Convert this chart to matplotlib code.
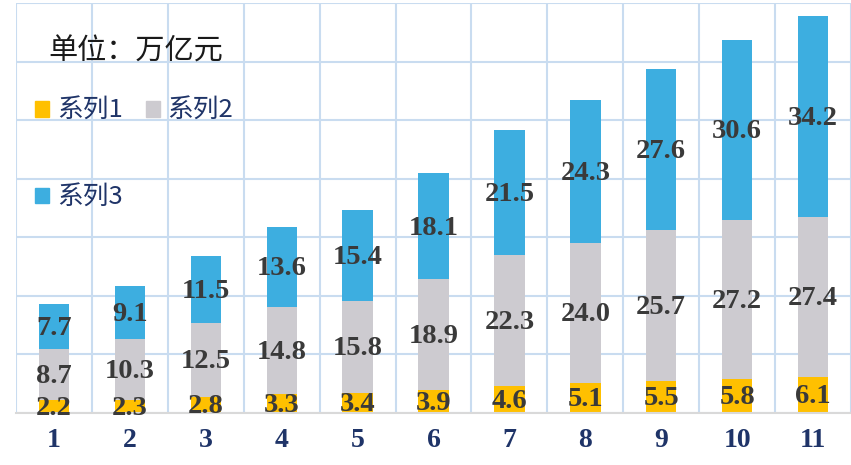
import matplotlib
matplotlib.use("Agg")
import matplotlib.pyplot as plt
from matplotlib.patches import Patch
import numpy as np

categories = ["1", "2", "3", "4", "5", "6", "7", "8", "9", "10", "11"]
series1 = [2.2, 2.3, 2.8, 3.3, 3.4, 3.9, 4.6, 5.1, 5.5, 5.8, 6.1]
series2 = [8.7, 10.3, 12.5, 14.8, 15.8, 18.9, 22.3, 24.0, 25.7, 27.2, 27.4]
series3 = [7.7, 9.1, 11.5, 13.6, 15.4, 18.1, 21.5, 24.3, 27.6, 30.6, 34.2]
series_names = ["系列1", "系列2", "系列3"]
unit_text = "单位：万亿元"

colors = ["#FFC000", "#CDCBD0", "#3DAEE0"]

fig = plt.figure(figsize=(8.51, 4.65), dpi=100)
ax = fig.add_axes([16 / 851, 52 / 465, 1 - 16 / 851, 410 / 465])

x = np.arange(len(categories))
s1 = np.array(series1)
s2 = np.array(series2)
s3 = np.array(series3)
w = 0.4
ax.bar(x, s1, w, color=colors[0], zorder=3)
ax.bar(x, s2, w, bottom=s1, color=colors[1], zorder=3)
ax.bar(x, s3, w, bottom=s1 + s2, color=colors[2], zorder=3)

lab_kw = dict(ha="center", va="center", fontsize=20.5, fontweight="bold",
              family="Liberation Serif", color="#3A3A3A", zorder=5)
for i in range(len(x)):
    ax.text(x[i], s1[i] / 2 - 0.3, f"{s1[i]:.1f}", **lab_kw)
    ax.text(x[i], s1[i] + s2[i] / 2 - 0.3, f"{s2[i]:.1f}", **lab_kw)
    ax.text(x[i], s1[i] + s2[i] + s3[i] / 2 - 0.3, f"{s3[i]:.1f}", **lab_kw)

ax.set_xlim(-0.5, len(x) - 0.5)
ax.set_ylim(0, 70)
ax.set_xticks(x)
ax.set_xticklabels(categories, fontsize=20, fontweight="bold",
                   family="Liberation Serif", color="#1F3468")
ax.tick_params(axis="x", length=0, pad=11)
ax.set_yticks(np.arange(0, 71, 10))
ax.tick_params(axis="y", length=0, labelleft=False)
ax.set_xticks(np.arange(-0.5, len(x), 1), minor=True)
ax.tick_params(axis="x", which="minor", length=0)
ax.grid(True, axis="y", which="major", color="#C9DCF0", linewidth=1.5, zorder=0)
ax.grid(True, axis="x", which="minor", color="#C9DCF0", linewidth=1.5, zorder=0)
for sp in ["top", "right", "left"]:
    ax.spines[sp].set_visible(False)
ax.spines["bottom"].set_color("#D9D9D9")
ax.spines["bottom"].set_linewidth(1.5)
ax.spines["bottom"].set_zorder(4)

fig.text(48 / 851, 1 - 52 / 465, unit_text, fontsize=21,
         family=["Noto Sans CJK SC", "DejaVu Sans"], color="#1a1a1a",
         ha="left", va="center")

handles = [Patch(color=colors[0], label=series_names[0]),
           Patch(color=colors[2], label=series_names[2]),
           Patch(color=colors[1], label=series_names[1])]
leg = ax.legend(handles=handles, ncol=2, loc="upper left",
                bbox_to_anchor=(35 / 851, 1 - 98 / 465), bbox_transform=fig.transFigure,
                frameon=False,
                prop={"family": ["Noto Sans CJK SC", "DejaVu Sans"], "size": 18.5},
                handlelength=0.55, handleheight=0.55, handletextpad=0.3,
                labelspacing=2.35, columnspacing=0.9, borderpad=0, borderaxespad=0)
for t in leg.get_texts():
    t.set_color("#1F3468")

fig.savefig("out.png", dpi=100)
